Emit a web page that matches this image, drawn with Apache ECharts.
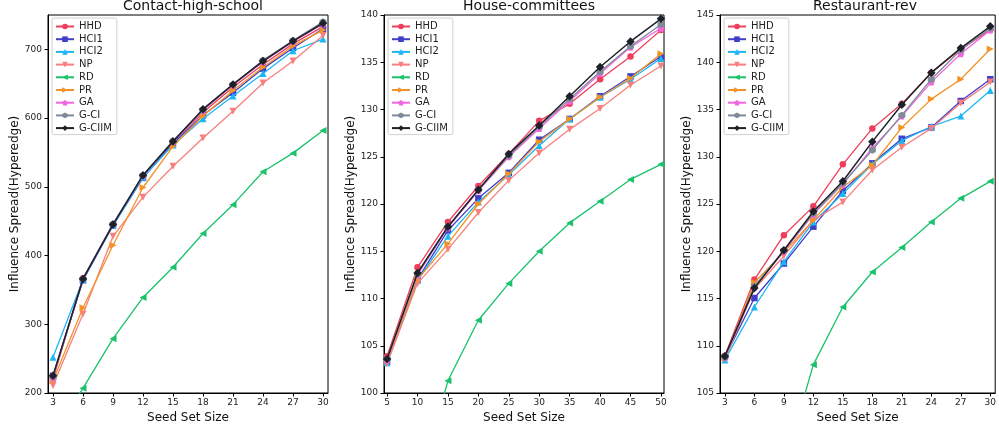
<!DOCTYPE html>
<html>
<head>
<meta charset="utf-8">
<script src="https://cdn.jsdelivr.net/npm/echarts@6/dist/echarts.min.js"></script>
<style>
html,body{margin:0;padding:0;background:#fff;}
#chart{width:999px;height:429px;}
</style>
</head>
<body>
<div id="chart"></div>
<script>
// ---------- data ----------
const methods = ['HHD','HCI1','HCI2','NP','RD','PR','GA','G-CI','G-CIIM'];
const titles = ['Contact-high-school','House-committees','Restaurant-rev'];

const xCHS = [3,6,9,12,15,18,21,24,27,30];
const xHC  = [5,10,15,20,25,30,35,40,45,50];
const xRR  = [3,6,9,12,15,18,21,24,27,30];

const yTicksCHS = [200,300,400,500,600,700];
const yTicksHC  = [100,105,110,115,120,125,130,135,140];
const yTicksRR  = [105,110,115,120,125,130,135,140,145];

// Contact-high-school
const chsHHD   = [220,367,445,515,565,608,645,678,708,733];
const chsHCI1  = [225,364,444,513,563,604,637,672,702,730];
const chsHCI2  = [252,365,444,514,561,599,632,665,698,715];
const chsNP    = [211,315,428,485,530,571,610,651,683,720];
const chsRD    = [137,207,279,339,383,432,474,522,549,582];
const chsPR    = [218,324,415,499,559,603,640,674,705,728];
const chsGA    = [222,367,446,516,566,611,648,682,711,737];
const chsGCI   = [224,366,446,517,567,612,649,684,713,740];
const chsGCIIM = [225,366,445,517,566,613,649,683,712,738];

// House-committees
const hcHHD   = [103.9,113.3,118.1,121.9,125.3,128.8,130.6,133.2,135.6,138.4];
const hcHCI1  = [103.3,112.0,117.2,120.6,123.3,126.8,129.0,131.4,133.5,135.6];
const hcHCI2  = [103.2,111.9,116.6,120.2,123.1,126.2,129.0,131.3,133.2,135.4];
const hcNP    = [103.1,111.6,115.2,119.1,122.5,125.4,127.9,130.1,132.6,134.6];
const hcRD    = [70.0,89.3,101.3,107.7,111.6,115.0,118.0,120.3,122.6,124.2];
const hcPR    = [103.4,112.0,115.8,120.0,123.2,126.6,129.0,131.3,133.3,135.9];
const hcGA    = [103.5,112.5,117.5,121.4,125.0,128.0,130.9,133.8,136.6,138.6];
const hcGCI   = [103.6,112.6,117.6,121.5,125.1,128.2,131.1,134.0,136.7,139.0];
const hcGCIIM = [103.6,112.7,117.6,121.5,125.3,128.3,131.4,134.5,137.2,139.6];

// Restaurant-rev
const rrHHD   = [108.95,117.0,121.7,124.75,129.2,133.0,135.6,138.9,141.4,143.4];
const rrHCI1  = [108.8,115.05,118.7,122.6,126.4,129.3,131.9,133.1,135.9,138.2];
const rrHCI2  = [108.5,114.1,118.9,123.1,126.1,129.2,131.7,133.2,134.3,137.0];
const rrNP    = [108.6,116.0,119.5,123.3,125.2,128.6,131.0,133.0,135.7,137.9];
const rrRD    = [80.0,88.0,97.2,108.0,114.1,117.8,120.4,123.1,125.6,127.4];
const rrPR    = [108.7,116.7,119.9,123.3,126.8,129.1,133.1,136.1,138.2,141.4];
const rrGA    = [108.8,116.2,120.0,123.9,127.1,130.9,134.3,137.9,140.9,143.4];
const rrGCI   = [108.8,116.3,120.1,124.0,127.2,130.7,134.4,138.2,141.3,143.6];
const rrGCIIM = [108.9,116.1,120.1,124.2,127.4,131.6,135.5,138.9,141.5,143.8];

// ---------- styles ----------
const colors = ['#EE3E5B','#3F3FC9','#1DB6F4','#F7807E','#19C26B','#F39326','#F267E0','#7F8B98','#1E2129'];
const symbols = [
  'circle',
  'rect',
  'path://M0,-1L1,0.8L-1,0.8Z',
  'path://M-1,-0.8L1,-0.8L0,1Z',
  'path://M-1,0L0.8,-1L0.8,1Z',
  'path://M1,0L-0.8,-1L-0.8,1Z',
  'path://M0,-1L0.951,-0.309L0.588,0.809L-0.588,0.809L-0.951,-0.309Z',
  'path://M0,-1L0.866,-0.5L0.866,0.5L0,1L-0.866,0.5L-0.866,-0.5Z',
  'path://M0,-1L1,0L0,1L-1,0Z'
];
const symSizes = [6.5,6.5,7,7,7,7,7,7,8.5];
const lineWidths = [1.3,1.3,1.3,1.3,1.3,1.3,1.3,1.3,1.5];

const panels = [
  {x: xCHS, ys: [chsHHD,chsHCI1,chsHCI2,chsNP,chsRD,chsPR,chsGA,chsGCI,chsGCIIM], xmin:2.5, xmax:30.5, ymin:200, ymax:750, yt:yTicksCHS, left:48},
  {x: xHC,  ys: [hcHHD,hcHCI1,hcHCI2,hcNP,hcRD,hcPR,hcGA,hcGCI,hcGCIIM], xmin:4.5, xmax:50.5, ymin:100, ymax:140, yt:yTicksHC, left:384},
  {x: xRR,  ys: [rrHHD,rrHCI1,rrHCI2,rrNP,rrRD,rrPR,rrGA,rrGCI,rrGCIIM], xmin:2.5, xmax:30.5, ymin:105, ymax:145, yt:yTicksRR, left:720}
];

const FONT = 'DejaVu Sans';
const GW = 280, GTOP = 15, GH = 378;

const option = {
  animation: false,
  backgroundColor: '#ffffff',
  title: [], grid: [], xAxis: [], yAxis: [], legend: [], series: []
};

panels.forEach((p, i) => {
  option.title.push({
    text: titles[i], left: p.left + GW/2, top: -6, textAlign: 'center',
    textStyle: {fontFamily: FONT, fontSize: 14, fontWeight: 'normal', color: '#111'}
  });
  option.grid.push({
    left: p.left, top: GTOP, width: GW, height: GH,
    show: true, borderColor: '#000', borderWidth: 1, backgroundColor: 'transparent'
  });
  option.xAxis.push({
    type: 'value', gridIndex: i, min: p.xmin, max: p.xmax,
    name: 'Seed Set Size', nameLocation: 'middle', nameGap: 16,
    nameTextStyle: {fontFamily: FONT, fontSize: 12, color: '#111'},
    axisLine: {show: true, lineStyle: {color: '#000', width: 1}},
    axisTick: {show: true, length: 3.5, lineStyle: {color: '#000'}, customValues: p.x},
    axisLabel: {fontFamily: FONT, fontSize: 9, color: '#222', margin: 5, customValues: p.x},
    splitLine: {show: false}
  });
  option.yAxis.push({
    type: 'value', gridIndex: i, min: p.ymin, max: p.ymax,
    name: 'Influence Spread(Hyperedge)', nameLocation: 'middle', nameGap: 23,
    nameTextStyle: {fontFamily: FONT, fontSize: 12, color: '#111'},
    axisLine: {show: true, lineStyle: {color: '#000', width: 1}},
    axisTick: {show: true, length: 3.5, lineStyle: {color: '#000'}, customValues: p.yt},
    axisLabel: {fontFamily: FONT, fontSize: 9, color: '#222', margin: 6, customValues: p.yt},
    splitLine: {show: false}
  });
  option.legend.push({
    orient: 'vertical', left: p.left + 4, top: 18,
    data: methods,
    itemWidth: 18, itemHeight: 7, itemGap: 1.7,
    padding: [3, 5, 1, 3],
    backgroundColor: 'rgba(255,255,255,0.8)',
    borderColor: '#d0d0d0', borderWidth: 1, borderRadius: 2,
    textStyle: {fontFamily: FONT, fontSize: 10, color: '#222', lineHeight: 11},
    selectedMode: false
  });
  methods.forEach((m, k) => {
    option.series.push({
      name: m, type: 'line', xAxisIndex: i, yAxisIndex: i,
      data: p.x.map((xv, j) => [xv, p.ys[k][j]]),
      symbol: symbols[k], symbolSize: symSizes[k], showSymbol: true,
      color: colors[k],
      lineStyle: {color: colors[k], width: lineWidths[k]},
      itemStyle: {color: colors[k], borderWidth: 0},
      clip: true, z: 2 + k * 0.01
    });
  });
});

const chart = echarts.init(document.getElementById('chart'), null, {renderer: 'canvas'});
chart.setOption(option);
</script>
</body>
</html>
